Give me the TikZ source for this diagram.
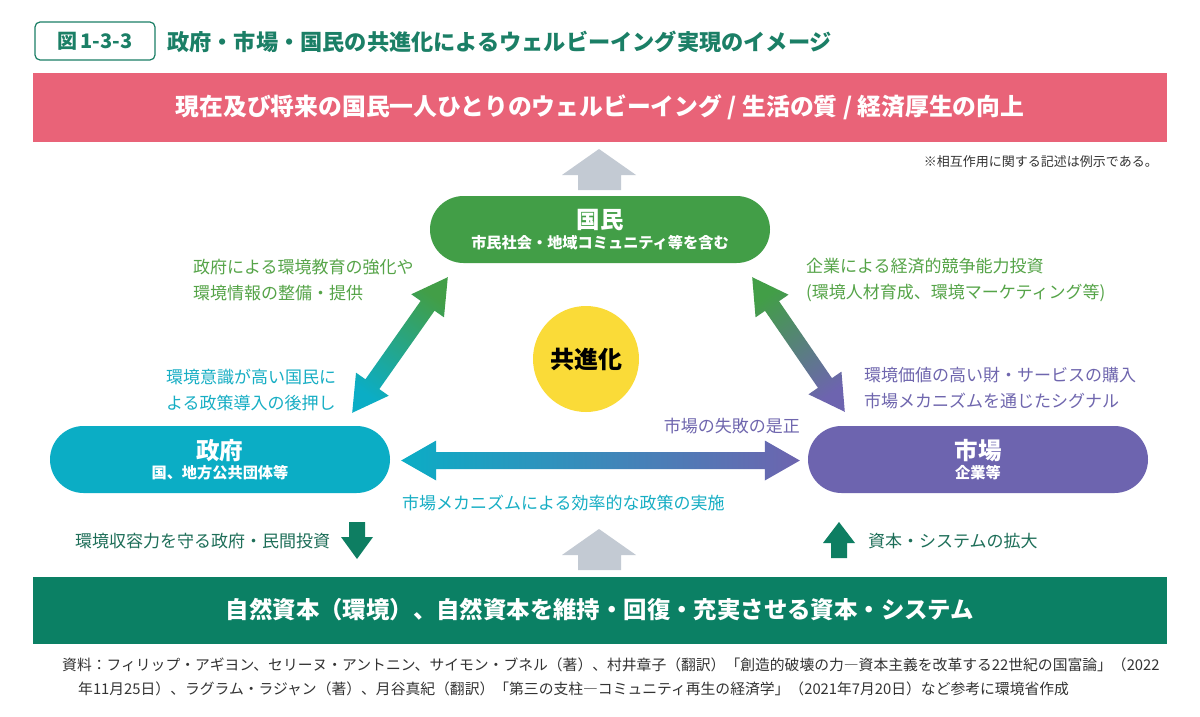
\documentclass[tikz,border=0pt]{standalone}
\usepackage{fontspec}
\setmainfont{Noto Sans CJK JP}
\usetikzlibrary{calc}
\definecolor{pinkc}{HTML}{E96378}
\definecolor{greenc}{HTML}{429E47}
\definecolor{cyanc}{HTML}{0BADC5}
\definecolor{purplec}{HTML}{6D64AF}
\definecolor{yellowc}{HTML}{FADB38}
\definecolor{tealc}{HTML}{0B8064}
\definecolor{titlegreen}{HTML}{1B7F66}
\definecolor{grayarrow}{HTML}{C3CAD3}
\definecolor{darkarrow}{HTML}{0E7E62}
\definecolor{lgreen}{HTML}{55A448}
\definecolor{lcyan}{HTML}{17AEC4}
\definecolor{lpurple}{HTML}{6F66AE}
\definecolor{dteal}{HTML}{1D6E58}
\definecolor{srcgray}{HTML}{333333}
\newcommand\fatarrow[4]{%
 \coordinate (#4p) at ($(#2)!35pt!(#3)$);
 \coordinate (#4q) at ($(#3)!35pt!(#2)$);
 \shade[#1] (#2) -- ($(#4p)!20pt!90:(#3)$) -- ($(#4p)!8.5pt!90:(#3)$) -- ($(#4q)!8.5pt!-90:(#2)$) -- ($(#4q)!20pt!-90:(#2)$) -- (#3) -- ($(#4q)!20pt!90:(#2)$) -- ($(#4q)!8.5pt!90:(#2)$) -- ($(#4p)!8.5pt!-90:(#3)$) -- ($(#4p)!20pt!-90:(#3)$) -- cycle;}
\begin{document}
\begin{tikzpicture}[x=1pt,y=-1pt,
  pill/.style={rounded corners=33.5pt, minimum width=340pt, minimum height=67pt, inner sep=0pt, text=white, align=center},
  band/.style={minimum width=1134pt, inner sep=0pt, text=white},
  lbl/.style={font=\fontsize{17}{26}\selectfont, anchor=west, align=left, inner sep=0pt},
  srct/.style={anchor=west, inner sep=0pt, text=srcgray, font=\fontsize{14.8}{16}\selectfont}]
\useasboundingbox[fill=white] (0,0) rectangle (1200,717);

% title
\node[draw=titlegreen, line width=1.2pt, rounded corners=5pt, minimum width=120pt, minimum height=38pt, inner sep=0pt, text=titlegreen, font=\bfseries\fontsize{20}{24}\selectfont] (fig) at (95,41) {図\,1-3-3};
\node[anchor=west, inner sep=0pt, text=titlegreen, font=\bfseries\fontsize{22.2}{24}\selectfont] (title) at (167,42) {政府・市場・国民の共進化によるウェルビーイング実現のイメージ};

% top banner
\node[band, fill=pinkc, minimum height=69pt, font=\bfseries\fontsize{23.8}{26}\selectfont] (top) at (600,107.5) {現在及び将来の国民一人ひとりのウェルビーイング / 生活の質 / 経済厚生の向上};
\node[anchor=east, inner sep=0pt, text=srcgray, font=\fontsize{13}{14}\selectfont] (note) at (1158,162) {※相互作用に関する記述は例示である。};

% nodes
\node[pill, fill=greenc] (kokumin) at (600,229.5) {\parbox[c][56pt][c]{330pt}{\centering{\bfseries\fontsize{23.5}{26}\selectfont 国民}\\[3pt]{\bfseries\fontsize{15.2}{16}\selectfont 市民社会・地域コミュニティ等を含む}}};
\node[pill, fill=cyanc] (seifu) at (220,459.5) {\parbox[c][56pt][c]{330pt}{\centering{\bfseries\fontsize{23.5}{26}\selectfont 政府}\\[3pt]{\bfseries\fontsize{15.2}{16}\selectfont 国、地方公共団体等}}};
\node[pill, fill=purplec] (ichiba) at (978,459.5) {\parbox[c][56pt][c]{330pt}{\centering{\bfseries\fontsize{23.5}{26}\selectfont 市場}\\[3pt]{\bfseries\fontsize{15.2}{16}\selectfont 企業等}}};
\node[circle, fill=yellowc, minimum size=106pt, inner sep=0pt, font=\bfseries\fontsize{24}{26}\selectfont] (kyo) at (586,359) {共進化};

% bottom banner
\node[band, fill=tealc, minimum height=67pt, font=\bfseries\fontsize{23.4}{26}\selectfont] (bottom) at (600,610) {自然資本（環境）、自然資本を維持・回復・充実させる資本・システム};

% gray arrows
\coordinate (gt1) at (599,149);
\fill[grayarrow] (gt1) -- ++(37,26) -- ++(-15,0) -- ++(0,15) -- ++(-43,0) -- ++(0,-15) -- ++(-16,0) -- cycle;
\coordinate (gt2) at (599,529);
\fill[grayarrow] (gt2) -- ++(37,26) -- ++(-15,0) -- ++(0,15) -- ++(-43,0) -- ++(0,-15) -- ++(-16,0) -- cycle;

% dark green arrows
\coordinate (dd) at (357,559);
\fill[darkarrow] (dd) -- ++(16,-22) -- ++(-8,0) -- ++(0,-15) -- ++(-16,0) -- ++(0,15) -- ++(-8,0) -- cycle;
\coordinate (du) at (839,522);
\fill[darkarrow] (du) -- ++(16,21) -- ++(-8,0) -- ++(0,15) -- ++(-16,0) -- ++(0,-15) -- ++(-8,0) -- cycle;

% fat double arrows
\coordinate (hA) at ($(seifu.east)+(11,1)$);
\coordinate (hB) at ($(ichiba.west)+(-8,1)$);
\fatarrow{left color=cyanc, right color=purplec}{hA}{hB}{h}
\coordinate (lA) at ($(seifu.north east)+(-38,-13)$);
\coordinate (lB) at ($(kokumin.south west)+(18,14)$);
\fatarrow{top color=greenc, bottom color=cyanc, shading angle=-35}{lA}{lB}{l}
\coordinate (rA) at ($(ichiba.north west)+(37,-14)$);
\coordinate (rB) at ($(kokumin.south east)+(-18,14)$);
\fatarrow{top color=greenc, bottom color=purplec, shading angle=35}{rA}{rB}{r}

% labels
\node[lbl, text=lgreen] (l1) at (193,280) {政府による環境教育の強化や\\環境情報の整備・提供};
\node[lbl, text=lcyan] (l2) at (166,390) {環境意識が高い国民に\\よる政策導入の後押し};
\node[lbl, text=lgreen] (l3) at (806,280) {企業による経済的競争能力投資\\(環境人材育成、環境マーケティング等)};
\node[lbl, text=lpurple] (l4) at (864,388) {環境価値の高い財・サービスの購入\\市場メカニズムを通じたシグナル};
\node[lbl, anchor=east, text=lpurple] (l5) at (800,426) {市場の失敗の是正};
\node[lbl, text=lcyan] (l6) at (402,503) {市場メカニズムによる効率的な政策の実施};
\node[lbl, text=dteal] (l7) at (75,541) {環境収容力を守る政府・民間投資};
\node[lbl, text=dteal] (l8) at (868,541) {資本・システムの拡大};

% source
\node[srct] (src1) at (62,665) {資料：フィリップ・アギヨン、セリーヌ・アントニン、サイモン・ブネル（著）、村井章子（翻訳）「創造的破壊の力―資本主義を改革する22世紀の国富論」（2022};
\node[srct] (src2) at (78,689) {年11月25日）、ラグラム・ラジャン（著）、月谷真紀（翻訳）「第三の支柱―コミュニティ再生の経済学」（2021年7月20日）など参考に環境省作成};
\end{tikzpicture}
\end{document}
